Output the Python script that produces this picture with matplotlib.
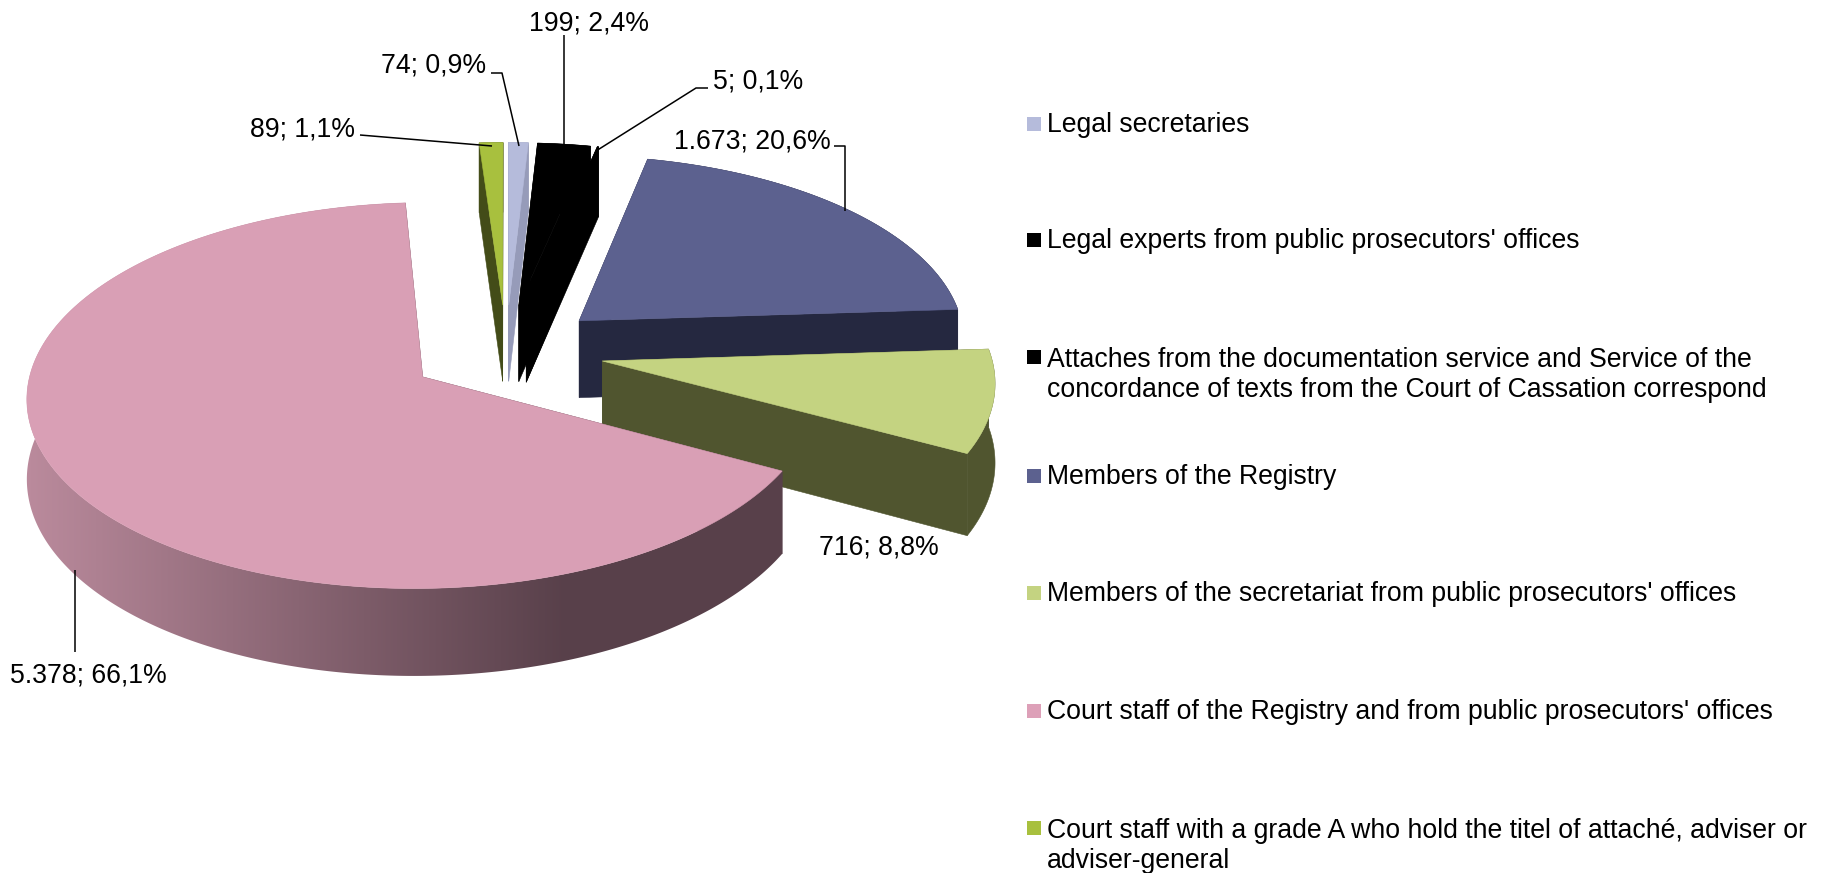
import numpy as np
import matplotlib
matplotlib.use('Agg')
import matplotlib.pyplot as plt
from matplotlib.patches import Polygon, Rectangle

plt.rcParams['font.family'] = ['Liberation Sans', 'DejaVu Sans']

# data
categories = ['Legal secretaries',
              "Legal experts from public prosecutors' offices",
              'Attaches from the documentation service and Service of the\nconcordance of texts from the Court of Cassation correspond',
              'Members of the Registry',
              "Members of the secretariat from public prosecutors' offices",
              "Court staff of the Registry and from public prosecutors' offices",
              'Court staff with a grade A who hold the titel of attaché, adviser or\nadviser-general']
values = [74, 199, 5, 1673, 716, 5378, 89]

# styles
top_colors = ['#B5BBDB', '#000000', '#000000', '#5C618F', '#C4D381', '#D99FB5', '#A8C03E']
side_colors = ['#969BB9', '#000000', '#000000', '#252840', '#50552F', '#58404A', '#434C18']
legend_colors = ['#B5BBDB', '#000000', '#000000', '#5C618F', '#C4D381', '#DDA0B8', '#A8C03E']
legend_y = [125, 241, 375, 477, 594, 712, 846]

# projection of the 3d pie, in pixels
cx, cy = 506, 351
R, explode, depth = 388, 98, 78
squash, persp = 0.48, 0.095
font_px = 26.6
fs = font_px * 0.72


def project(wx, wy):
    s = 1 / (1 - persp * wy / R)
    return cx + wx * s, cy + squash * wy * s, s


def ground(ax0, ay0, th):
    th = np.radians(th)
    return ax0 + R * np.sin(th), ay0 - R * np.cos(th)


fig = plt.figure(figsize=(18.27, 8.73), dpi=100)
ax = fig.add_axes([0, 0, 1, 1])
ax.set_xlim(0, 1827)
ax.set_ylim(873, 0)
ax.axis('off')

total = sum(values)
edges = np.concatenate([[0], np.cumsum(values) / total * 360])

# back slices first, pink one on top
order = [6, 0, 1, 2, 3, 4, 5]
z = 1
for i in order:
    a0, a1 = edges[i], edges[i + 1]
    mid = np.radians((a0 + a1) / 2)
    ax0, ay0 = explode * np.sin(mid), -explode * np.cos(mid)
    ths = np.linspace(a0, a1, max(int(a1 - a0) * 2, 2) + 1)
    wx, wy = ground(ax0, ay0, ths)
    sx, sy, s = project(wx, wy)
    px, py, ps = project(ax0, ay0)
    # cut faces
    for j in (0, -1):
        quad = [(px, py), (sx[j], sy[j]), (sx[j], sy[j] + depth * s[j]), (px, py + depth * ps)]
        ax.add_patch(Polygon(quad, closed=True, fc=side_colors[i], ec=side_colors[i], lw=0.4, zorder=z))
    # outer wall, shaded on the big slice
    wall = list(zip(sx, sy)) + list(zip(sx[::-1], (sy + depth * s)[::-1]))
    z += 1
    if i == 5:
        xx = np.arange(0, 1000)
        t = np.clip((xx - 30) / (566 - 30), 0, 1)[None, :, None]
        grad = (1 - t) * np.array([186, 138, 156]) / 255 + t * np.array([88, 64, 74]) / 255
        im = ax.imshow(grad, extent=(0, 1000, 873, 0), aspect='auto', zorder=z)
        clip = Polygon(wall, closed=True, transform=ax.transData)
        im.set_clip_path(clip)
    else:
        ax.add_patch(Polygon(wall, closed=True, fc=side_colors[i], ec=side_colors[i], lw=0.4, zorder=z))
    z += 1
    # top face
    top = [(px, py)] + list(zip(sx, sy))
    ax.add_patch(Polygon(top, closed=True, fc=top_colors[i], ec=top_colors[i], lw=0.4, zorder=z))
    z += 1

ax.set_xlim(0, 1827)
ax.set_ylim(873, 0)


def data_label(v):
    n = f'{v:,}'.replace(',', '.')
    p = f'{v / total * 100:.1f}'.replace('.', ',')
    return f'{n}; {p}%'


# data labels and leader lines
label_pos = [(434, 66), (589, 24), (758, 81), (752, 141), (879, 547), (88, 675), (302, 130)]
leaders = [[(491, 73), (502, 73), (519, 146)],
           [(564, 35), (564, 147)],
           [(708, 88), (696, 88), (596, 151)],
           [(834, 146), (845, 146), (845, 211)],
           None,
           [(75, 570), (75, 652)],
           [(360, 135), (492, 146)]]
for i, v in enumerate(values):
    ax.text(label_pos[i][0], label_pos[i][1], data_label(v), fontsize=fs, color='black',
            ha='center', va='center', zorder=50)
    if leaders[i] is not None:
        xs, ys = zip(*leaders[i])
        ax.plot(xs, ys, color='black', lw=1.1, solid_capstyle='butt', zorder=40)

# legend
for i, name in enumerate(categories):
    first_y = legend_y[i] - (17 if '\n' in name else 0)
    ax.add_patch(Rectangle((1027, first_y - 8), 14, 14, fc=legend_colors[i], ec='none', zorder=50))
    ax.text(1047, legend_y[i], name, fontsize=fs, color='black', ha='left', va='center',
            linespacing=1.18, zorder=50)

fig.savefig('out.png', dpi=100, facecolor='white')
